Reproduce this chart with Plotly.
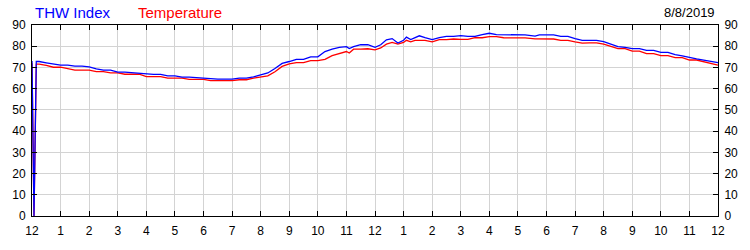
import plotly.graph_objects as go

# Time in hours from midnight (0..24)
hours = [0.0, 0.07, 0.15, 0.25, 0.5, 0.75, 1.0, 1.25, 1.5, 1.75, 2.0, 2.25, 2.5, 2.75,
         3.0, 3.25, 3.5, 3.75, 4.0, 4.25, 4.5, 4.75, 5.0, 5.25, 5.5, 5.75, 6.0, 6.25,
         6.5, 6.75, 7.0, 7.25, 7.5, 7.75, 8.0, 8.25, 8.5, 8.75, 9.0, 9.25, 9.5, 9.75,
         10.0, 10.25, 10.5, 10.75, 11.0, 11.1, 11.25, 11.5, 11.75, 12.0, 12.2, 12.4,
         12.6, 12.8, 13.0, 13.1, 13.25, 13.4, 13.55, 13.75, 14.0, 14.25, 14.5, 14.75,
         15.0, 15.25, 15.5, 15.75, 16.0, 16.25, 16.5, 16.75, 17.0, 17.25, 17.6, 17.75,
         18.0, 18.25, 18.5, 18.75, 19.0, 19.25, 19.5, 19.75, 20.0, 20.25, 20.5, 20.75,
         21.0, 21.25, 21.5, 21.75, 22.0, 22.25, 22.5, 22.75, 23.0, 23.25, 23.5, 23.75,
         24.0]

thw_index = [73.0, 0.0, 72.8, 72.8, 72.2, 71.7, 71.1, 71.1, 70.6, 70.6, 70.3, 69.3, 68.7, 68.7,
             67.8, 67.8, 67.5, 67.2, 67.2, 66.7, 66.7, 66.0, 66.0, 65.4, 65.4, 65.1, 65.1, 64.5,
             64.5, 64.5, 64.5, 65.0, 65.0, 65.6, 66.5, 67.4, 69.5, 71.9, 72.8, 73.8, 73.8, 75.0,
             75.0, 77.5, 78.6, 79.5, 79.8, 78.9, 79.8, 80.7, 80.7, 79.5, 80.7, 83.0,
             83.6, 81.5, 82.8, 84.3, 83.1, 84.0, 84.9, 84.0, 83.1, 84.0, 84.6, 84.6,
             85.0, 84.6, 84.6, 85.5, 86.1, 85.5, 85.5, 85.5, 85.3, 85.3, 84.8, 85.3,
             85.3, 85.3, 84.6, 84.6, 83.6, 82.8, 82.8, 82.8, 82.2, 81.0, 79.8, 79.5,
             78.9, 78.9, 78.0, 78.0, 77.1, 77.1, 76.0, 75.5, 74.7, 74.0, 73.5, 72.8,
             72.3]

temperature = [72.0, 0.0, 71.6, 71.6, 71.0, 70.1, 70.1, 69.5, 68.7, 68.7, 68.7, 68.0, 68.0, 67.4,
               67.4, 66.8, 66.8, 66.8, 65.7, 65.7, 65.7, 65.0, 65.0, 65.0, 64.4, 64.4, 64.4, 63.8,
               63.8, 63.8, 63.8, 64.2, 64.2, 65.0, 65.5, 66.0, 68.0, 70.5, 71.7, 72.3, 72.3, 73.2,
               73.2, 73.8, 75.6, 76.5, 77.5, 76.8, 78.6, 78.6, 78.8, 78.3, 79.2, 81.0,
               81.8, 81.0, 81.8, 82.8, 82.1, 82.8, 82.8, 82.8, 82.1, 83.1, 83.1, 83.4,
               83.2, 83.2, 84.0, 84.0, 84.5, 84.5, 84.0, 84.0, 83.9, 83.9, 83.5, 83.5,
               83.5, 83.4, 82.8, 82.8, 82.1, 81.5, 81.6, 81.6, 81.0, 79.8, 78.9, 78.9,
               77.7, 77.7, 76.5, 76.5, 75.6, 75.6, 74.6, 74.6, 73.5, 73.5, 72.6, 72.0,
               71.1]

x_tick_vals = list(range(0, 25))
x_tick_text = ["12", "1", "2", "3", "4", "5", "6", "7", "8", "9", "10", "11",
               "12", "1", "2", "3", "4", "5", "6", "7", "8", "9", "10", "11", "12"]
y_tick_vals = [0, 10, 20, 30, 40, 50, 60, 70, 80, 90]
date_label = "8/8/2019"

FONT = "Liberation Sans, Arial, sans-serif"

fig = go.Figure()
fig.add_trace(go.Scatter(x=hours, y=temperature, mode="lines", name="Temperature",
                         line=dict(color="#ff0000", width=1.3)))
fig.add_trace(go.Scatter(x=hours, y=thw_index, mode="lines", name="THW Index",
                         line=dict(color="#0000ff", width=1.3), yaxis="y2"))

axis_common = dict(showline=True, linecolor="black", linewidth=1, ticks="inside",
                   ticklen=5, tickcolor="black", tickwidth=1, zeroline=False,
                   tickfont=dict(family=FONT, size=12, color="black"))

fig.update_layout(
    width=750, height=250,
    margin=dict(l=31, r=30, t=25, b=25),
    paper_bgcolor="white", plot_bgcolor="white",
    showlegend=False,
    xaxis=dict(range=[0, 24], tickvals=x_tick_vals, ticktext=x_tick_text,
               showgrid=True, gridcolor="#d3d3d3", gridwidth=1, mirror="ticks",
               ticklabelstandoff=4, **axis_common),
    yaxis=dict(range=[0, 90], tickvals=y_tick_vals, showgrid=True, gridcolor="#d3d3d3",
               gridwidth=1, mirror="ticks", ticklabelstandoff=3, **axis_common),
    yaxis2=dict(range=[0, 90], tickvals=y_tick_vals, overlaying="y", side="right",
                showgrid=False, ticklabelstandoff=3, **axis_common),
    annotations=[
        dict(text="THW Index", xref="paper", yref="paper", x=0.0015, y=1.0675,
             xanchor="left", yanchor="middle", showarrow=False,
             font=dict(family=FONT, size=15, color="#0000ff")),
        dict(text="Temperature", xref="paper", yref="paper", x=0.152, y=1.0675,
             xanchor="left", yanchor="middle", showarrow=False,
             font=dict(family=FONT, size=15, color="#ff0000")),
        dict(text=date_label, xref="paper", yref="paper", x=0.998, y=1.0675,
             xanchor="right", yanchor="middle", showarrow=False,
             font=dict(family=FONT, size=13, color="black")),
    ],
)

fig.write_html("out.html")
